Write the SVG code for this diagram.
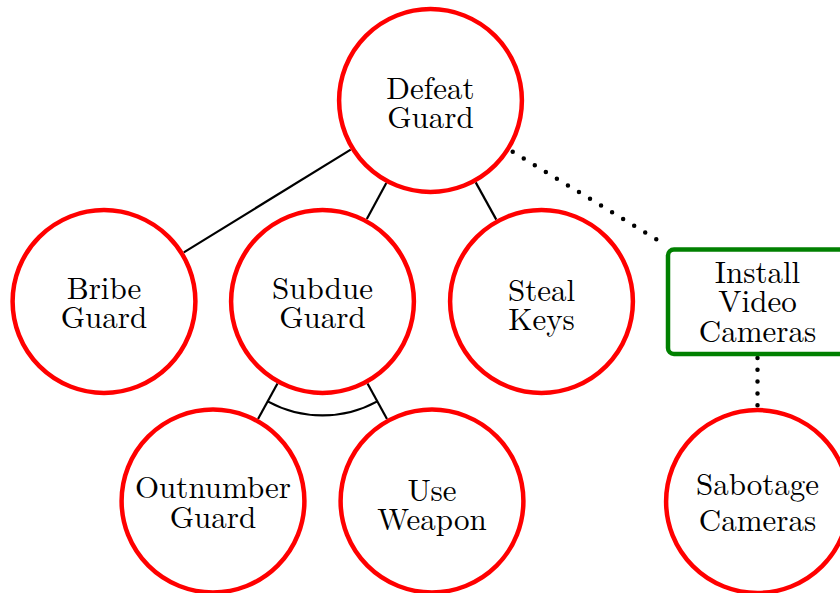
<svg xmlns="http://www.w3.org/2000/svg" width="840" height="593" viewBox="0 0 840 593">
  <style>
    .goal { fill: #ffffff; stroke: #ff0000; stroke-width: 4.5; }
    .ctrl { fill: #ffffff; stroke: #008000; stroke-width: 4.5; }
    .edge { fill: none; stroke: #000000; stroke-width: 2.2; }
    .dots { fill: none; stroke: #000000; stroke-width: 4.5; stroke-linecap: round; }
    .lbl { font-family: 'Latin Modern Roman', 'CMU Serif', 'Liberation Serif', 'Noto Serif', 'DejaVu Serif', 'FreeSerif', 'Tinos', 'Times New Roman', Times, serif; font-size: 31px; fill: #000000; text-anchor: middle; }
  </style>
  <rect width="840" height="593" fill="#ffffff"/>

  <!-- connectors -->
  <g id="connectors">
    <line class="edge" x1="350.7" y1="149.6" x2="183.8" y2="252.4"/>
    <line class="edge" x1="386.3" y1="182.9" x2="366.8" y2="219.1"/>
    <line class="edge" x1="475.7" y1="182.4" x2="496.3" y2="219.6"/>
    <line class="edge" x1="277.5" y1="383.5" x2="258" y2="419"/>
    <line class="edge" x1="367.5" y1="383.5" x2="387" y2="419"/>
    <!-- AND arc joining the two refinements of Subdue Guard -->
    <path class="edge" d="M 267.7 401.4 A 114 114 0 0 0 377.3 401.4"/>
    <!-- countermeasure links -->
    <path class="dots" d="M 512.7 151.7 L 667.3 246" stroke-dasharray="0 12.936"/>
    <path class="dots" d="M 757.5 358 L 757.5 405.2" stroke-dasharray="0 11.8"/>
  </g>

  <g id="defeat-guard">
    <circle class="goal" cx="430.5" cy="100.5" r="91.4"/>
    <text class="lbl" x="430.5" y="98.7">Defeat</text>
    <text class="lbl" x="430.5" y="127.7">Guard</text>
  </g>

  <g id="bribe-guard">
    <circle class="goal" cx="104" cy="301.5" r="91.4"/>
    <text class="lbl" x="104" y="298.7">Bribe</text>
    <text class="lbl" x="104" y="327.7">Guard</text>
  </g>

  <g id="subdue-guard">
    <circle class="goal" cx="322.5" cy="301.5" r="91.4"/>
    <text class="lbl" x="322.5" y="298.7">Subdue</text>
    <text class="lbl" x="322.5" y="327.7">Guard</text>
  </g>

  <g id="steal-keys">
    <circle class="goal" cx="541.5" cy="301.5" r="91.4"/>
    <text class="lbl" x="541.5" y="300.7">Steal</text>
    <text class="lbl" x="541.5" y="330">Keys</text>
  </g>

  <g id="install-video-cameras">
    <rect class="ctrl" x="668" y="249.5" width="179" height="104.5" rx="6" ry="6"/>
    <text class="lbl" x="757.5" y="282.7">Install</text>
    <text class="lbl" x="757.5" y="312.3">Video</text>
    <text class="lbl" x="757.5" y="341.7">Cameras</text>
  </g>

  <g id="outnumber-guard">
    <circle class="goal" cx="213" cy="501" r="91.4"/>
    <text class="lbl" x="213" y="497.5">Outnumber</text>
    <text class="lbl" x="213" y="527.7">Guard</text>
  </g>

  <g id="use-weapon">
    <circle class="goal" cx="432" cy="501" r="91.4"/>
    <text class="lbl" x="432" y="500.7">Use</text>
    <text class="lbl" x="432" y="530">Weapon</text>
  </g>

  <g id="sabotage-cameras">
    <circle class="goal" cx="757.5" cy="501.5" r="91.4"/>
    <text class="lbl" x="757.5" y="494.5">Sabotage</text>
    <text class="lbl" x="757.5" y="530.5">Cameras</text>
  </g>
</svg>
